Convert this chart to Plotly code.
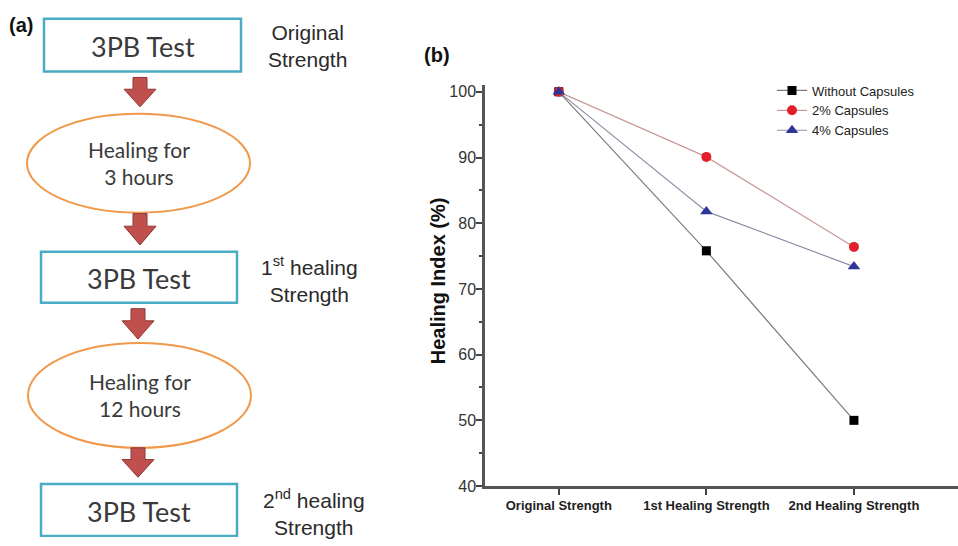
import plotly.graph_objects as go

# ---------------- data (panel b) ----------------
categories = ["Original Strength", "1st Healing Strength", "2nd Healing Strength"]
without_caps = [100.0, 75.8, 50.0]
caps_2pct = [100.0, 90.1, 76.4]
caps_4pct = [100.0, 81.8, 73.4]
y_ticks = [40, 50, 60, 70, 80, 90, 100]

# ---------------- flowchart text (panel a) ----------------
box_labels = ["3PB Test", "3PB Test", "3PB Test"]
ellipse_labels = ["Healing for<br>3 hours", "Healing for<br>12 hours"]
side_labels = ["Original<br>Strength", "1<sup>st</sup> healing<br>Strength", "2<sup>nd</sup> healing<br>Strength"]

W, H = 958, 546
xs = list(range(len(categories)))

fig = go.Figure()

series = [
    ("Without Capsules", without_caps, "#7d7d7d", "square", "#000000", 9),
    ("2% Capsules", caps_2pct, "#c89a9a", "circle", "#e3202a", 10),
    ("4% Capsules", caps_4pct, "#8e8fa8", "triangle-up", "#2e3596", 11),
]
for name, vals, lc, sym, mc, ms in series:
    fig.add_trace(go.Scatter(
        x=xs, y=vals, name=name, mode="lines+markers",
        line=dict(color=lc, width=1.2),
        marker=dict(symbol=sym, color=mc, size=ms, line=dict(width=0)),
        xaxis="x", yaxis="y",
    ))

# invisible pixel-space axis for the flowchart
fig.add_trace(go.Scatter(x=[0], y=[0], xaxis="x2", yaxis="y2", mode="markers",
                         marker=dict(opacity=0), showlegend=False, hoverinfo="skip"))

x0px, x1px = 485, 958
ytop, ybot = 85, 494
fig.update_layout(
    width=W, height=H,
    margin=dict(l=0, r=0, t=0, b=0),
    paper_bgcolor="white", plot_bgcolor="rgba(0,0,0,0)",
    showlegend=True,
    legend=dict(x=772 / W, y=1 - 75 / H, xanchor="left", yanchor="top",
                font=dict(family="Liberation Sans", size=13, color="#222"),
                bgcolor="rgba(0,0,0,0)", tracegroupgap=0, itemwidth=30),
    xaxis=dict(domain=[x0px / W, x1px / W], anchor="y",
               range=[-0.5, (x1px - 559) / 147.5],
               tickvals=xs, ticktext=categories,
               tickfont=dict(family="Liberation Sans", size=13, color="#222", weight="bold"),
               ticks="outside", ticklen=6, tickwidth=1.5, tickcolor="#444",
               showline=True, linecolor="#555", linewidth=2.5,
               showgrid=False, zeroline=False),
    yaxis=dict(domain=[1 - ybot / H, 1 - ytop / H], anchor="x",
               range=[40, 101], tickvals=y_ticks,
               tickfont=dict(family="Liberation Sans", size=16, color="#333"),
               ticks="outside", ticklen=6, tickwidth=1.5, tickcolor="#444",
               ticklabelstandoff=-3,
               minor=dict(ticks="outside", ticklen=3, dtick=5, tickcolor="#444", tickwidth=1.5),
               showline=True, linecolor="#555", linewidth=2.5,
               showgrid=False, zeroline=False),
    xaxis2=dict(domain=[0, 1], anchor="y2", range=[0, W], visible=False, fixedrange=True),
    yaxis2=dict(domain=[0, 1], anchor="x2", range=[H, 0], visible=False, fixedrange=True),
)

shapes = []
annotations = []

box_color = "#4aabc5"
ell_color = "#f0994a"
arrow_fill = "#c0504d"
arrow_line = "#8e3633"
txt_color = "#3a3a3a"

boxes = [(44, 241, 17, 71), (41, 237, 255, 307), (41, 237, 492, 545)]
for (bx0, bx1, by0, by1), lab in zip(boxes, box_labels):
    shapes.append(dict(type="rect", xref="x2", yref="y2", x0=bx0, x1=bx1, y0=by0, y1=by1,
                       line=dict(color=box_color, width=2.5), fillcolor="white"))
    annotations.append(dict(xref="x2", yref="y2", x=(bx0 + bx1) / 2, y=(by0 + by1) / 2 + 1,
                            text=lab, showarrow=False,
                            font=dict(family="Lato", size=27, color=txt_color)))

ellipses = [(27, 250, 114, 215), (28, 251, 348, 455)]
for (ex0, ex1, ey0, ey1), lab in zip(ellipses, ellipse_labels):
    shapes.append(dict(type="circle", xref="x2", yref="y2", x0=ex0, x1=ex1, y0=ey0, y1=ey1,
                       line=dict(color=ell_color, width=2), fillcolor="white"))
    annotations.append(dict(xref="x2", yref="y2", x=(ex0 + ex1) / 2, y=(ey0 + ey1) / 2,
                            text=lab, showarrow=False,
                            font=dict(family="Lato", size=21, color=txt_color)))

arrows = [(140, 77, 107), (140, 216, 248), (138, 313, 344), (138, 455, 485)]
for cx, top, tip in arrows:
    head = top + (tip - top) * 0.4
    sw, hw = 7, 16
    path = (f"M {cx - sw},{top} L {cx + sw},{top} L {cx + sw},{head} L {cx + hw},{head} "
            f"L {cx},{tip} L {cx - hw},{head} L {cx - sw},{head} Z")
    shapes.append(dict(type="path", xref="x2", yref="y2", path=path,
                       fillcolor=arrow_fill, line=dict(color=arrow_line, width=1)))

side_pos = [(307, 45), (309, 283), (314, 521)]
for (sx, sy), lab in zip(side_pos, side_labels):
    annotations.append(dict(xref="x2", yref="y2", x=sx, y=sy, text=lab, showarrow=False,
                            align="center",
                            font=dict(family="Liberation Sans", size=21, color="#2a2a2a")))

annotations.append(dict(xref="x2", yref="y2", x=7, y=23, xanchor="left", text="<b>(a)</b>",
                        showarrow=False, font=dict(family="Liberation Sans", size=20, color="#111")))
annotations.append(dict(xref="x2", yref="y2", x=422, y=54, xanchor="left", text="<b>(b)</b>",
                        showarrow=False, font=dict(family="Liberation Sans", size=20, color="#111")))
annotations.append(dict(xref="x2", yref="y2", x=438, y=285, text="<b>Healing Index (%)</b>",
                        textangle=-90, showarrow=False,
                        font=dict(family="Liberation Sans", size=20, color="#111")))

fig.update_layout(shapes=shapes, annotations=annotations)
fig.write_html("out.html")
